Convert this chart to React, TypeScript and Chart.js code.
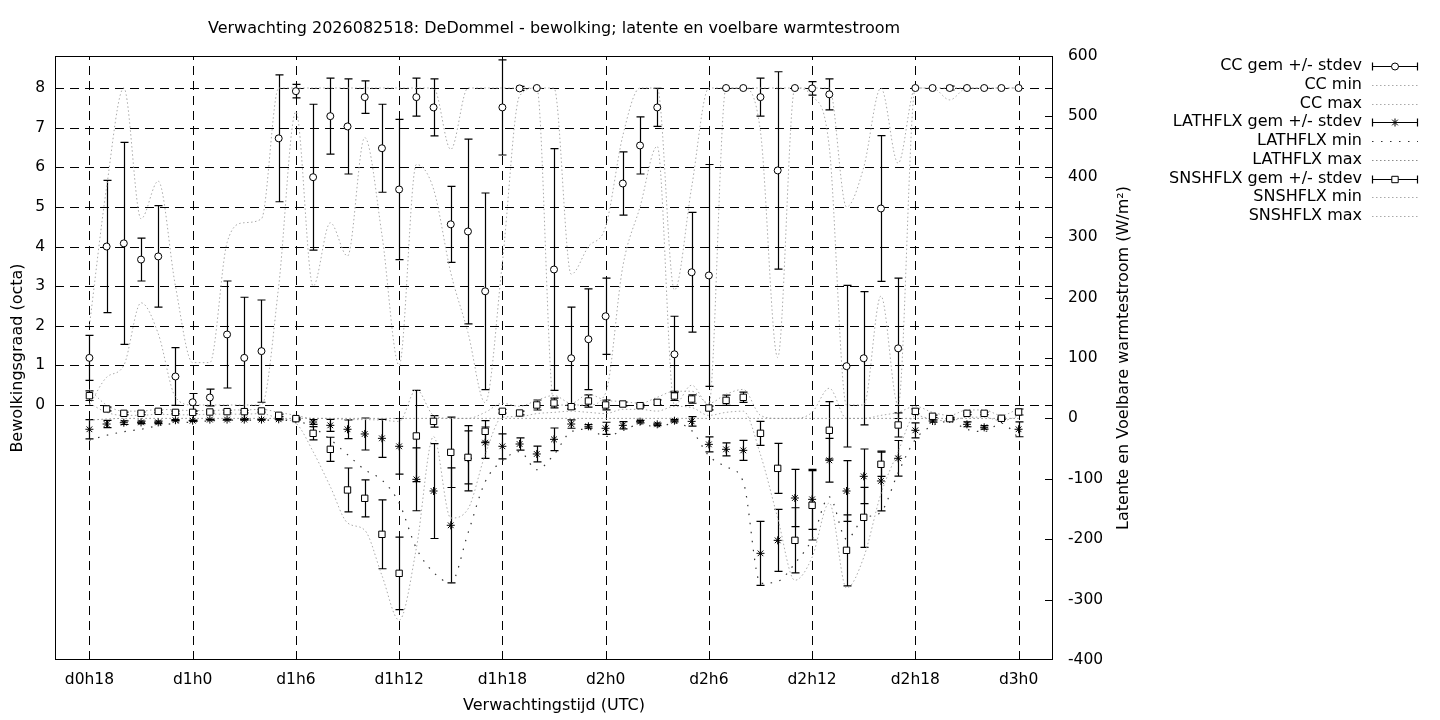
import React, { useEffect, useRef } from "react";
import { Chart, registerables } from "chart.js";

Chart.register(...registerables);

const FONT = "'DejaVu Sans', sans-serif";
const FS = 16;
const TICK_FS = 15.5;

const TITLE = "Verwachting 2026082518: DeDommel - bewolking; latente en voelbare warmtestroom";
const X_TITLE = "Verwachtingstijd (UTC)";
const Y_TITLE = "Bewolkingsgraad (octa)";
const Y2_TITLE = "Latente en Voelbare warmtestroom (W/m\u00B2)";

const HOURS = [
  18, 19, 20, 21, 22, 23, 24, 25, 26, 27,
  28, 29, 30, 31, 32, 33, 34, 35, 36, 37,
  38, 39, 40, 41, 42, 43, 44, 45, 46, 47,
  48, 49, 50, 51, 52, 53, 54, 55, 56, 57,
  58, 59, 60, 61, 62, 63, 64, 65, 66, 67,
  68, 69, 70, 71, 72,
];

const X_TICK_HOURS = [18, 24, 30, 36, 42, 48, 54, 60, 66, 72];
const X_TICK_LABELS = ["d0h18", "d1h0", "d1h6", "d1h12", "d1h18", "d2h0", "d2h6", "d2h12", "d2h18", "d3h0"];
const CC_TICKS = [0, 1, 2, 3, 4, 5, 6, 7, 8];
const FLX_TICKS = [-400, -300, -200, -100, 0, 100, 200, 300, 400, 500, 600];
const CC_AXIS = [-6.435, 8.808];
const FLX_AXIS = [-400, 600];
const X_AXIS = [16, 74];

const CC_MEAN = [
  1.19, 4.0, 4.08, 3.67, 3.75, 0.72, 0.07, 0.19, 1.78, 1.19,
  1.36, 6.73, 7.92, 5.75, 7.29, 7.03, 7.77, 6.48, 5.44, 7.77,
  7.51, 4.56, 4.38, 2.87, 7.51, 7.99, 8.0, 3.42, 1.18, 1.66,
  2.24, 5.59, 6.55, 7.51, 1.28, 3.35, 3.27, 8.0, 8.0, 7.77,
  5.92, 8.0, 7.99, 7.84, 0.98, 1.18, 4.96, 1.43, 8.0, 8.0,
  8.0, 8.0, 8.0, 8.0, 8.0,
];
const CC_SD = [
  0.57, 1.67, 2.55, 0.54, 1.28, 0.73, 0.22, 0.21, 1.35, 1.53,
  1.29, 1.6, 0.17, 1.84, 0.96, 1.2, 0.41, 1.11, 1.77, 0.48,
  0.72, 0.96, 2.33, 2.48, 1.2, 0.05, 0, 3.05, 1.29, 1.27,
  0.96, 0.8, 0.72, 0.48, 0.96, 1.51, 2.8, 0, 0, 0.48,
  2.49, 0, 0.17, 0.39, 2.04, 1.68, 1.84, 1.77, 0, 0,
  0.05, 0, 0, 0, 0,
];
const CC_MIN = [
  0, 0.7, 1.0, 2.58, 1.8, 0.2, 0, 0, 0, 0,
  0, 3.0, 7.4, 3.0, 4.6, 3.76, 6.75, 4.3, 1.0, 6.07,
  5.45, 3.34, 1.83, 0.06, 3.6, 7.8, 8, 0, 0, 0,
  0.3, 3.5, 5.0, 6.53, 0, 0.5, 0, 8, 8, 6.9,
  1.2, 8, 7.8, 6.5, 0, 0, 2.75, 0, 8, 8,
  7.7, 8, 8, 8, 8,
];
const CC_MAX = [
  2.0, 5.5, 8, 4.7, 5.65, 3.0, 1.07, 1.07, 4.1, 4.6,
  4.7, 8, 8, 8, 8, 8, 8, 8, 8, 8,
  8, 6.45, 8, 8, 8, 8, 8, 8, 3.3, 4.0,
  4.5, 6.8, 8, 8, 2.9, 5.5, 8, 8, 8, 8,
  8, 8, 8, 8, 5.0, 6.0, 8, 6.1, 8, 8,
  8, 8, 8, 8, 8,
];

const LATH_MEAN = [
  -18, -9.3, -7.1, -6.6, -6.6, -3, -3.8, -2, -2, -2,
  -2, -1.5, -1.5, -6, -11.5, -18, -25.8, -33, -46.2, -100.9,
  -120.2, -177, -66, -40.2, -46.2, -42.4, -58.9, -34.7, -9.3, -13.1,
  -16.4, -11.5, -5.4, -9.8, -3.8, -4.9, -43, -51.2, -52.9, -223.4,
  -201.9, -131.8, -134, -69.4, -120.2, -95.9, -103.6, -66.1, -19.7, -4.3,
  -1, -9.8, -14.8, -1, -18,
];
const LATH_SD = [
  16, 6, 3, 2, 2, 1, 1, 1, 1, 1,
  1, 1, 1, 4, 10, 15.5, 26.5, 31.5, 46, 52,
  78.6, 95.2, 54, 26, 20.7, 10, 13, 18.8, 7, 3,
  10, 6, 2, 2, 2, 8, 12.4, 10.8, 16.5, 53,
  51.3, 47.5, 49.7, 36.2, 50.2, 45.2, 49.4, 29.5, 12.4, 2,
  1, 4, 3, 1, 12.4,
];
const LATH_MIN = [
  -36, -28, -22, -18, -12, -8, -6, -4, -3, -3,
  -3, -3, -4, -15, -35, -60, -85, -102, -140, -215,
  -255, -272, -190, -105, -70, -55, -85, -60, -22, -18,
  -30, -20, -10, -14, -8, -20, -62, -80, -105, -273,
  -270, -240, -200, -130, -200, -165, -155, -90, -35, -12,
  -5, -18, -22, -8, -32,
];
const LATH_MAX = [
  -3, -1, 0, 0, 0, 0, 0, 0, 0, 0,
  0, 0, 0, 0, 0, 0, 0, 0, 0, 0,
  0, 0, 0, 0, 0, 0, 0, 0, 0, 0,
  0, 0, 0, 0, 0, 0, 0, 0, 0, 0,
  0, 0, 0, 0, 0, 0, 0, 0, 0, 0,
  0, 0, 0, 0, 0,
];

const SNS_MEAN = [
  37.6, 15.6, 8.4, 8.4, 11.7, 10, 10, 10.6, 11.2, 11.2,
  12.3, 5.1, -0.4, -24.7, -51.2, -118.5, -132.3, -191.9, -256.5, -29.1,
  -4.9, -56.2, -64.5, -21.4, 11.7, 8.9, 22.2, 25.5, 19.4, 28.8,
  22.2, 23.8, 21.1, 26.6, 37.1, 32.1, 17.2, 29.9, 34.9, -24.7,
  -82.7, -201.9, -143.9, -19.7, -218.4, -163.8, -76, -10.9, 11.7, 3.5,
  -0.4, 8.4, 8.4, 0.2, 10.6,
];
const SNS_SD = [
  8, 3, 2, 2, 2, 2, 2, 2, 2, 2,
  2, 2, 2, 11, 20, 36.4, 30.6, 57, 60, 75.6,
  9.6, 58.2, 44, 17.7, 3, 3, 8.3, 8, 3, 10,
  8, 3, 2, 4, 7.5, 7, 3, 8.5, 8.5, 19.9,
  41.4, 54, 57.4, 47.5, 58.8, 49.7, 20, 19.9, 4, 2,
  2, 2, 2, 2, 5,
];
const SNS_MIN = [
  25, 10, 5, 5, 7, 6, 6, 7, 7, 7,
  8, 0, -8, -55, -113, -173, -185, -260, -334, -215,
  -30, -165, -150, -60, 2, 3, 8, 10, 12, 10,
  8, 15, 15, 12, 20, 18, 5, 10, 12, -60,
  -165, -268, -230, -140, -281, -230, -125, -55, 5, -2,
  -4, 2, 2, -4, 4,
];
const SNS_MAX = [
  48, 22, 12, 12, 15, 14, 13, 13, 14, 14,
  15, 10, 5, 0, 0, -2, -2, -3, -5, 48,
  5, 0, 0, 10, 25, 20, 30, 38, 25, 40,
  30, 28, 25, 35, 45, 45, 25, 40, 48, 5,
  0, 0, 10, 50, 0, 0, 5, 10, 20, 10,
  5, 14, 14, 5, 16,
];

const LEGEND_LABELS = [
  "CC gem +/- stdev",
  "CC min",
  "CC max",
  "LATHFLX gem +/- stdev",
  "LATHFLX min",
  "LATHFLX max",
  "SNSHFLX gem +/- stdev",
  "SNSHFLX min",
  "SNSHFLX max",
];

const GREY = "#a9a9a9";
const LATH_MIN_COLOR = "#333333";
const DOT = [1.5, 2.5];
const SPARSE_DOT = [1.5, 7.5];

const pts = (arr: number[]) => arr.map((v, i) => ({ x: HOURS[i], y: v }));

type Style = { kind: "err" | "line"; marker?: string; color?: string; dash?: number[] };
const LEGEND_STYLES: Style[] = [
  { kind: "err", marker: "circle" },
  { kind: "line", color: GREY, dash: DOT },
  { kind: "line", color: GREY, dash: DOT },
  { kind: "err", marker: "star" },
  { kind: "line", color: LATH_MIN_COLOR, dash: SPARSE_DOT },
  { kind: "line", color: "#8a8a8a", dash: DOT },
  { kind: "err", marker: "rect" },
  { kind: "line", color: GREY, dash: DOT },
  { kind: "line", color: GREY, dash: DOT },
];

function drawMarker(ctx: CanvasRenderingContext2D, kind: string, x: number, y: number) {
  ctx.save();
  ctx.setLineDash([]);
  ctx.lineWidth = 1;
  ctx.strokeStyle = "#000";
  ctx.fillStyle = "#fff";
  if (kind === "circle") {
    ctx.beginPath();
    ctx.arc(x, y, 3.5, 0, Math.PI * 2);
    ctx.fill();
    ctx.stroke();
  } else if (kind === "rect") {
    ctx.beginPath();
    ctx.rect(x - 3.2, y - 3.2, 6.4, 6.4);
    ctx.fill();
    ctx.stroke();
  } else {
    const r = 4;
    const d = r * Math.SQRT1_2;
    ctx.beginPath();
    ctx.moveTo(x - r, y);
    ctx.lineTo(x + r, y);
    ctx.moveTo(x, y - r);
    ctx.lineTo(x, y + r);
    ctx.moveTo(x - d, y - d);
    ctx.lineTo(x + d, y + d);
    ctx.moveTo(x - d, y + d);
    ctx.lineTo(x + d, y - d);
    ctx.stroke();
  }
  ctx.restore();
}

const gnuPlugin = {
  id: "gnuStyle",
  beforeDatasetsDraw(chart: any) {
    const { ctx, chartArea: ca, scales } = chart;
    const xs = scales.x;
    const ys = scales.y;
    const y2 = scales.y2;
    ctx.save();
    ctx.strokeStyle = "#000";
    ctx.lineWidth = 1;
    ctx.setLineDash([9, 6]);
    CC_TICKS.forEach((v) => {
      const py = Math.round(ys.getPixelForValue(v)) + 0.5;
      ctx.beginPath();
      ctx.moveTo(ca.left, py);
      ctx.lineTo(ca.right, py);
      ctx.stroke();
    });
    X_TICK_HOURS.forEach((h) => {
      const px = Math.round(xs.getPixelForValue(h)) + 0.5;
      ctx.beginPath();
      ctx.moveTo(px, ca.bottom);
      ctx.lineTo(px, ca.top);
      ctx.stroke();
    });
    ctx.setLineDash([]);

    ctx.beginPath();
    ctx.rect(ca.left, ca.top, ca.right - ca.left, ca.bottom - ca.top);
    ctx.clip();
    ctx.lineWidth = 1.2;
    const drawErr = (mean: number[], sd: number[], sc: any) => {
      mean.forEach((m, i) => {
        if (!sd[i]) return;
        const px = Math.round(xs.getPixelForValue(HOURS[i])) + 0.5;
        const top = sc.getPixelForValue(m + sd[i]);
        const bot = sc.getPixelForValue(m - sd[i]);
        ctx.beginPath();
        ctx.moveTo(px, top);
        ctx.lineTo(px, bot);
        ctx.moveTo(px - 4, top);
        ctx.lineTo(px + 4, top);
        ctx.moveTo(px - 4, bot);
        ctx.lineTo(px + 4, bot);
        ctx.stroke();
      });
    };
    drawErr(CC_MEAN, CC_SD, ys);
    drawErr(LATH_MEAN, LATH_SD, y2);
    drawErr(SNS_MEAN, SNS_SD, y2);
    ctx.restore();
  },
  afterDraw(chart: any) {
    const { ctx, chartArea: ca, scales } = chart;
    const y2 = scales.y2;
    ctx.save();
    ctx.strokeStyle = "#000";
    ctx.lineWidth = 1;
    ctx.setLineDash([]);
    ctx.strokeRect(ca.left + 0.5, ca.top + 0.5, ca.right - ca.left - 1, ca.bottom - ca.top - 1);
    FLX_TICKS.forEach((v) => {
      const py = Math.round(y2.getPixelForValue(v)) + 0.5;
      if (py <= ca.top + 1 || py >= ca.bottom - 1) return;
      ctx.beginPath();
      ctx.moveTo(ca.right - 8, py);
      ctx.lineTo(ca.right, py);
      ctx.stroke();
    });

    ctx.fillStyle = "#000";
    ctx.font = `${FS}px ${FONT}`;
    ctx.textAlign = "center";
    ctx.textBaseline = "middle";
    const cx = (ca.left + ca.right) / 2;
    const cy = (ca.top + ca.bottom) / 2;
    ctx.fillText(TITLE, cx, 29);
    ctx.fillText(X_TITLE, cx, 706);
    ctx.save();
    ctx.translate(18, cy);
    ctx.rotate(-Math.PI / 2);
    ctx.fillText(Y_TITLE, 0, 0);
    ctx.restore();
    ctx.save();
    ctx.translate(1124, cy);
    ctx.rotate(-Math.PI / 2);
    ctx.fillText(Y2_TITLE, 0, 0);
    ctx.restore();

    // legend
    const lx0 = 1372;
    const lx1 = 1418;
    LEGEND_LABELS.forEach((label, i) => {
      const y = 66 + i * 18.75;
      ctx.fillStyle = "#000";
      ctx.textAlign = "right";
      ctx.fillText(label, 1362, y);
      const st = LEGEND_STYLES[i];
      const py = Math.round(y) + 0.5;
      if (st.kind === "err") {
        ctx.strokeStyle = "#000";
        ctx.lineWidth = 1.2;
        ctx.setLineDash([]);
        ctx.beginPath();
        ctx.moveTo(lx0, py);
        ctx.lineTo(lx1, py);
        ctx.moveTo(lx0 + 0.5, py - 4);
        ctx.lineTo(lx0 + 0.5, py + 4);
        ctx.moveTo(lx1 - 0.5, py - 4);
        ctx.lineTo(lx1 - 0.5, py + 4);
        ctx.stroke();
        drawMarker(ctx, st.marker as string, (lx0 + lx1) / 2, py);
      } else {
        ctx.strokeStyle = st.color as string;
        ctx.lineWidth = 1;
        ctx.setLineDash(st.dash as number[]);
        ctx.beginPath();
        ctx.moveTo(lx0, py);
        ctx.lineTo(lx1, py);
        ctx.stroke();
        ctx.setLineDash([]);
      }
    });
    ctx.restore();
  },
};

function lineDs(label: string, arr: number[], axis: string, color: string, dash: number[], width = 1) {
  return {
    type: "line",
    label,
    data: pts(arr),
    yAxisID: axis,
    borderColor: color,
    borderWidth: width,
    borderDash: dash,
    borderCapStyle: "butt",
    pointRadius: 0,
    fill: false,
    cubicInterpolationMode: "monotone",
    order: 10,
  };
}

function markerDs(label: string, arr: number[], axis: string, style: string, radius: number, fillWhite: boolean, order: number) {
  return {
    type: "line",
    label,
    data: pts(arr),
    yAxisID: axis,
    showLine: false,
    pointStyle: style,
    pointRadius: radius,
    pointHoverRadius: radius,
    pointBorderWidth: 1,
    pointBorderColor: "#000",
    pointBackgroundColor: fillWhite ? "#fff" : "#000",
    borderColor: "#000",
    backgroundColor: "#fff",
    order,
  };
}

export default function App() {
  const ref = useRef<HTMLCanvasElement | null>(null);

  useEffect(() => {
    if (!ref.current) return;
    Chart.defaults.font.family = FONT;
    Chart.defaults.font.size = TICK_FS;
    Chart.defaults.color = "#000";
    const tickFont = { family: FONT, size: TICK_FS };
    const chart = new Chart(ref.current, {
      type: "line",
      data: {
        datasets: [
          lineDs("CC min", CC_MIN, "y", GREY, DOT),
          lineDs("CC max", CC_MAX, "y", GREY, DOT),
          lineDs("LATHFLX min", LATH_MIN, "y2", LATH_MIN_COLOR, SPARSE_DOT, 1.2),
          lineDs("LATHFLX max", LATH_MAX, "y2", "#8a8a8a", DOT),
          lineDs("SNSHFLX min", SNS_MIN, "y2", GREY, DOT),
          lineDs("SNSHFLX max", SNS_MAX, "y2", GREY, DOT),
          markerDs("CC gem", CC_MEAN, "y", "circle", 3.5, true, 3),
          markerDs("LATHFLX gem", LATH_MEAN, "y2", "star", 4, false, 2),
          markerDs("SNSHFLX gem", SNS_MEAN, "y2", "rect", 4.5, true, 1),
        ] as any,
      },
      options: {
        responsive: false,
        animation: false,
        devicePixelRatio: 1,
        layout: { padding: { top: 56, left: 0, right: 0, bottom: 0 } },
        plugins: {
          legend: { display: false },
          title: { display: false },
          tooltip: { enabled: false },
        },
        events: [],
        scales: {
          x: {
            type: "linear",
            position: "bottom",
            min: X_AXIS[0],
            max: X_AXIS[1],
            afterBuildTicks: (s: any) => {
              s.ticks = X_TICK_HOURS.map((v) => ({ value: v }));
            },
            afterFit: (s: any) => {
              s.height = 60;
            },
            grid: { display: false, drawTicks: false },
            border: { display: false },
            ticks: {
              font: tickFont,
              color: "#000",
              padding: 11,
              maxRotation: 0,
              autoSkip: false,
              callback: (v: any) => {
                const idx = X_TICK_HOURS.indexOf(Number(v));
                return idx >= 0 ? X_TICK_LABELS[idx] : "";
              },
            },
          },
          y: {
            type: "linear",
            position: "left",
            min: CC_AXIS[0],
            max: CC_AXIS[1],
            afterBuildTicks: (s: any) => {
              s.ticks = CC_TICKS.map((v) => ({ value: v }));
            },
            afterFit: (s: any) => {
              s.width = 55;
            },
            grid: { display: false, drawTicks: false },
            border: { display: false },
            ticks: { font: tickFont, color: "#000", padding: 10, callback: (v: any) => String(v) },
          },
          y2: {
            type: "linear",
            position: "right",
            min: FLX_AXIS[0],
            max: FLX_AXIS[1],
            afterBuildTicks: (s: any) => {
              s.ticks = FLX_TICKS.map((v) => ({ value: v }));
            },
            afterFit: (s: any) => {
              s.width = 387;
            },
            grid: { display: false, drawTicks: false },
            border: { display: false },
            ticks: { font: tickFont, color: "#000", padding: 15, callback: (v: any) => String(v) },
          },
        },
      } as any,
      plugins: [gnuPlugin],
    });
    return () => chart.destroy();
  }, []);

  return (
    <div style={{ position: "fixed", left: 0, top: 0, width: 1440, height: 720, background: "#fff" }}>
      <canvas ref={ref} width={1440} height={720} style={{ width: 1440, height: 720, display: "block" }} />
    </div>
  );
}
